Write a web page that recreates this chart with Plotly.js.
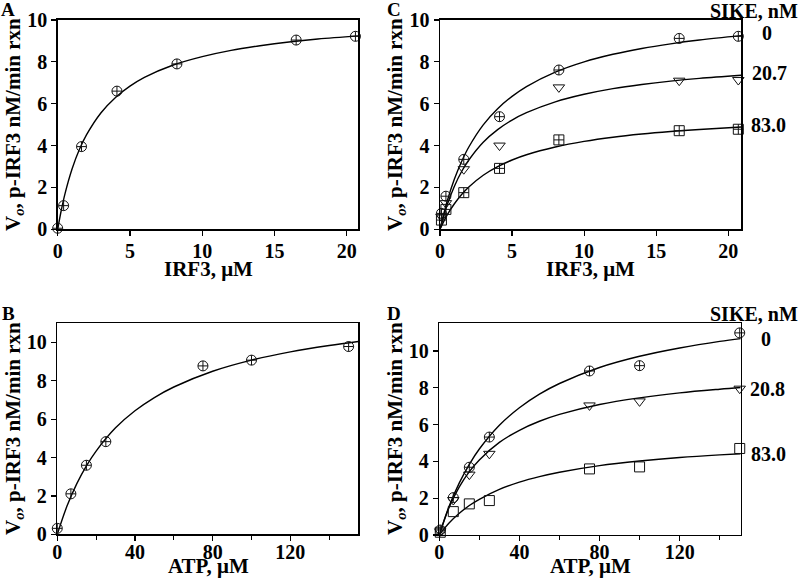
<!DOCTYPE html>
<html>
<head>
<meta charset="utf-8">
<script src="https://cdn.plot.ly/plotly-3.0.1.min.js"></script>
<style>html,body{margin:0;padding:0;background:#fff;}#chart{width:800px;height:579px;}</style>
</head>
<body>
<div id="chart"></div>
<script>
// ---------- Data ----------
// Panel A: IRF3 titration
const irf3A = [0, 0.41, 1.65, 4.1, 8.25, 16.5, 20.6];
const vA    = [0.05, 1.13, 3.95, 6.6, 7.9, 9.04, 9.22];
const fitXA = [0, 0.25, 0.5, 1, 1.5, 2, 3, 4, 5, 6, 8, 10, 12, 14, 16, 18, 20.8];
const fitYA = [0, 0.91, 1.68, 2.89, 3.81, 4.52, 5.57, 6.30, 6.84, 7.26, 7.85, 8.25, 8.55, 8.77, 8.95, 9.09, 9.24];

// Panel C: IRF3 titration with SIKE
const irf3C = [0.1, 0.41, 1.65, 4.13, 8.25, 16.6, 20.7];
const vC0   = [0.76, 1.58, 3.34, 5.38, 7.61, 9.12, 9.22];
const vC20  = [0.6, 1.25, 2.87, 4.0, 6.78, 7.10, 7.13];
const vC83  = [0.44, 0.95, 1.75, 2.91, 4.27, 4.71, 4.78];
const fitXC   = [0, 0.5, 1, 1.5, 2, 3, 4, 5, 6, 8, 10, 12, 14, 16, 18, 20.9];
const fitYC0  = [0, 1.35, 2.40, 3.24, 3.93, 4.99, 5.76, 6.35, 6.82, 7.51, 8.00, 8.36, 8.64, 8.86, 9.04, 9.25];
const fitYC20 = [0, 1.17, 2.06, 2.76, 3.31, 4.16, 4.76, 5.22, 5.57, 6.09, 6.45, 6.72, 6.92, 7.08, 7.21, 7.36];
const fitYC83 = [0, 0.69, 1.22, 1.66, 2.02, 2.58, 2.99, 3.31, 3.56, 3.93, 4.20, 4.40, 4.55, 4.67, 4.77, 4.89];
const sikeC = ["0", "20.7", "83.0"];

// Panel B: ATP titration
const atpB = [0, 7, 15, 25, 75, 100, 150];
const vB   = [0.31, 2.11, 3.6, 4.83, 8.78, 9.08, 9.79];
const fitXB = [0, 5, 10, 15, 20, 30, 40, 50, 60, 80, 100, 120, 140, 155];
const fitYB = [0, 1.47, 2.63, 3.57, 4.34, 5.55, 6.44, 7.13, 7.68, 8.50, 9.08, 9.51, 9.84, 10.05];

// Panel D: ATP titration with SIKE
const atpD = [0.5, 7, 15, 25, 75, 100, 150];
const vD0  = [0.27, 2.03, 3.68, 5.32, 8.91, 9.2, 10.98];
const vD20 = [0.2, 1.9, 3.28, 4.41, 7.04, 7.26, 7.95];
const vD83 = [0.15, 1.27, 1.69, 1.87, 3.59, 3.70, 4.70];
const fitXD   = [0, 5, 10, 15, 20, 30, 40, 50, 60, 80, 100, 120, 140, 150.5];
const fitYD0  = [0, 1.59, 2.83, 3.84, 4.67, 5.96, 6.91, 7.65, 8.23, 9.10, 9.71, 10.16, 10.52, 10.67];
const fitYD20 = [0, 1.52, 2.61, 3.44, 4.08, 5.03, 5.69, 6.18, 6.55, 7.09, 7.45, 7.72, 7.92, 8.01];
const fitYD83 = [0, 0.66, 1.18, 1.60, 1.94, 2.48, 2.87, 3.17, 3.41, 3.77, 4.02, 4.21, 4.35, 4.41];
const sikeD = ["0", "20.8", "83.0"];

const yTitle = "V<sub><i>o</i></sub>, p-IRF3 nM/min rxn";
const xTitleIRF = "IRF3, \u03bcM";
const xTitleATP = "ATP, \u03bcM";

// ---------- Styling ----------
const FAM = '"Liberation Serif", "Times New Roman", serif';
const ink = '#111';

function pts(x, y, xa, ya, symbol) {
  return {x: x, y: y, xaxis: xa, yaxis: ya, type: 'scatter', mode: 'markers', cliponaxis: false,
    marker: {symbol: symbol, size: 10, color: ink, line: {color: ink, width: 1}}, showlegend: false, hoverinfo: 'x+y'};
}
function fit(x, y, xa, ya) {
  return {x: x, y: y, xaxis: xa, yaxis: ya, type: 'scatter', mode: 'lines', cliponaxis: false,
    line: {color: '#000', width: 1.4, shape: 'spline', smoothing: 1}, showlegend: false, hoverinfo: 'skip'};
}

const data = [
  fit(fitXA, fitYA, 'x', 'y'),
  pts(irf3A, vA, 'x', 'y', 'circle-cross-open'),

  fit(fitXC, fitYC0, 'x2', 'y2'),
  fit(fitXC, fitYC20, 'x2', 'y2'),
  fit(fitXC, fitYC83, 'x2', 'y2'),
  pts(irf3C, vC0, 'x2', 'y2', 'circle-cross-open'),
  pts(irf3C, vC20, 'x2', 'y2', 'triangle-down-open'),
  pts(irf3C, vC83, 'x2', 'y2', 'square-cross-open'),

  fit(fitXB, fitYB, 'x3', 'y3'),
  pts(atpB, vB, 'x3', 'y3', 'circle-cross-open'),

  fit(fitXD, fitYD0, 'x4', 'y4'),
  fit(fitXD, fitYD20, 'x4', 'y4'),
  fit(fitXD, fitYD83, 'x4', 'y4'),
  pts(atpD, vD0, 'x4', 'y4', 'circle-cross-open'),
  pts(atpD, vD20, 'x4', 'y4', 'triangle-down-open'),
  pts(atpD, vD83, 'x4', 'y4', 'square-open')
];

function tf() { return {family: FAM, size: 20, color: '#000', weight: 700}; }

function xax(domain, range, dtick, anchor, minor, standoff) {
  const a = {domain: domain, range: range, anchor: anchor, dtick: dtick, tick0: 0,
    showline: true, mirror: true, linecolor: '#000', linewidth: 1.5,
    ticks: 'outside', ticklen: 5, tickwidth: 1.2, tickcolor: '#000', ticklabelstandoff: standoff,
    showgrid: false, zeroline: false, tickfont: tf(), automargin: false, fixedrange: true};
  if (minor) a.minor = {dtick: minor, ticks: 'outside', ticklen: 4, tickwidth: 1.2, tickcolor: '#000', showgrid: false};
  return a;
}
function yax(domain, range, anchor) {
  return {domain: domain, range: range, anchor: anchor, dtick: 2, tick0: 0,
    showline: true, mirror: true, linecolor: '#000', linewidth: 1.5,
    ticks: 'outside', ticklen: 5, tickwidth: 1.2, tickcolor: '#000',
    showgrid: false, zeroline: false, tickfont: tf(), automargin: false, fixedrange: true};
}

const yTop = [0.604, 0.9655];
const yBotB = [0.0772, 0.4416];
const yBotD = [0.0760, 0.4416];

const ann = [];
function txt(px, py, t, size, angle) {
  ann.push({xref: 'paper', yref: 'paper', x: px / 800, y: 1 - py / 579, text: t, showarrow: false,
    xanchor: 'center', yanchor: 'middle', textangle: angle || 0,
    font: {family: FAM, size: size, color: '#000', weight: 700}});
}
// panel letters
txt(8, 9, 'A', 19);
txt(394, 9, 'C', 19);
txt(8, 313, 'B', 19);
txt(394, 313, 'D', 19);
// axis titles
txt(208, 269, xTitleIRF, 21);
txt(590, 269, xTitleIRF, 21);
txt(208, 566, xTitleATP, 21);
txt(590, 566, xTitleATP, 21);
txt(14, 125, yTitle, 21, -90);
txt(396, 125, yTitle, 21, -90);
txt(14, 429, yTitle, 21, -90);
txt(396, 429, yTitle, 21, -90);
// SIKE legends
txt(754, 11, 'SIKE, nM', 20);
txt(767, 33, sikeC[0], 20);
txt(769, 73, sikeC[1], 20);
txt(768, 125, sikeC[2], 20);
txt(754, 314, 'SIKE, nM', 20);
txt(766, 339, sikeD[0], 20);
txt(767, 389, sikeD[1], 20);
txt(768, 454, sikeD[2], 20);

const layout = {
  width: 800, height: 579,
  margin: {l: 0, r: 0, t: 0, b: 0},
  paper_bgcolor: '#fff', plot_bgcolor: '#fff',
  showlegend: false,
  font: {family: FAM, color: '#000', size: 20, weight: 700},
  xaxis:  xax([0.0721, 0.4479], [0, 20.8], 5, 'y', null, -2),
  yaxis:  yax(yTop, [0, 10], 'x'),
  xaxis2: xax([0.55, 0.9265], [0, 20.9], 5, 'y2', null, -2),
  yaxis2: yax(yTop, [0, 10], 'x2'),
  xaxis3: xax([0.0716, 0.4479], [0, 155], 40, 'y3', 20, -6),
  yaxis3: yax(yBotB, [0, 11], 'x3'),
  xaxis4: xax([0.5491, 0.9259], [0, 150.5], 40, 'y4', 20, -6),
  yaxis4: yax(yBotD, [0, 11.5], 'x4'),
  annotations: ann
};

Plotly.newPlot('chart', data, layout, {displayModeBar: false, staticPlot: true});
</script>
</body>
</html>
